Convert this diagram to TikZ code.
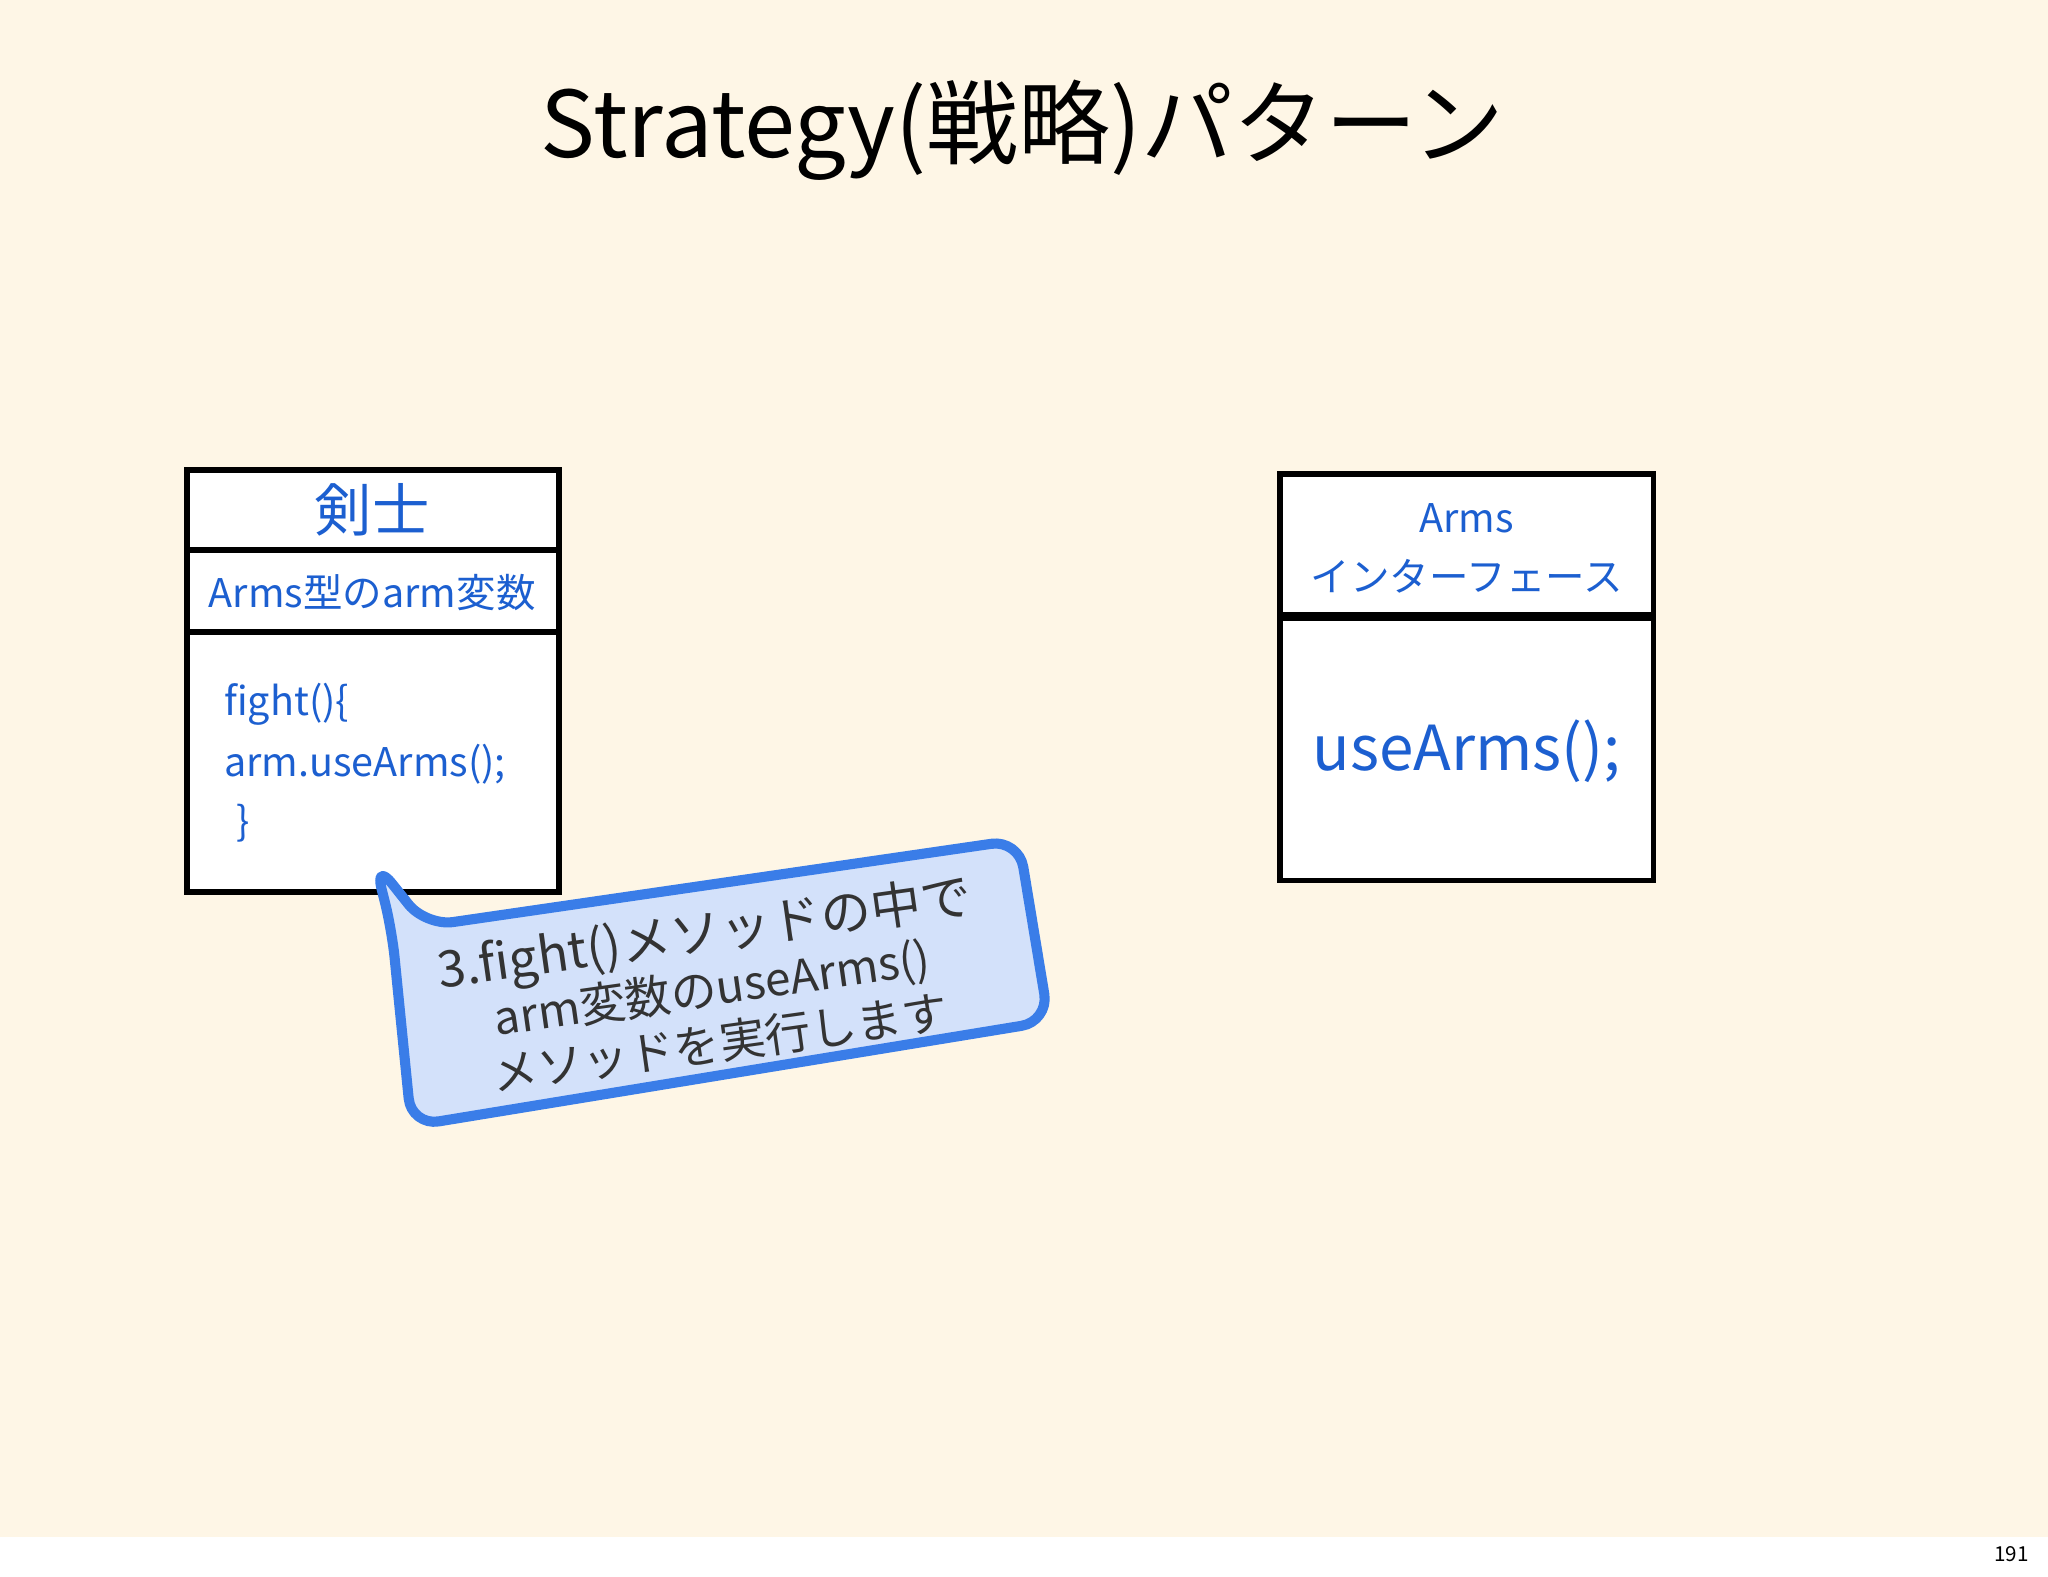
\documentclass[tikz,border=0pt]{standalone}
\usepackage{fontspec}
\setmainfont{Noto Sans CJK JP}
\definecolor{bg}{HTML}{FEF6E6}
\definecolor{tb}{HTML}{1C5FD0}
\definecolor{cfill}{HTML}{D3E1FA}
\definecolor{cline}{HTML}{3A7DE8}
\begin{document}
\begin{tikzpicture}[x=0.01cm,y=-0.01cm,
  boxline/.style={draw=black,line width=1.2pt,fill=white},
  bt/.style={text=tb,inner sep=0pt}]
\useasboundingbox (0,0) rectangle (1568,1207);
\fill[white] (0,0) rectangle (1568,1207);
\fill[bg] (0,0) rectangle (1568,1177);
\node[inner sep=0pt] (title) at (783,100) {\fontsize{20}{24}\selectfont Strategy(戦略)パターン};
% left box
\draw[boxline] (143,360) rectangle (428,683);
\draw[line width=1.2pt] (143,421) -- (428,421) (143,484) -- (428,484);
\node[bt] (kenshi) at (285,390) {\fontsize{12.5}{14}\selectfont 剣士};
\node[bt] (armvar) at (285,454) {\fontsize{8.6}{10}\selectfont Arms型のarm変数};
\node[bt,anchor=west] (l1) at (171,539) {\fontsize{8.6}{10}\selectfont fight()\{};
\node[bt,anchor=west] (l2) at (171,585) {\fontsize{8.6}{10}\selectfont arm.useArms();};
\node[bt,anchor=west] (l3) at (180,630) {\fontsize{8.6}{10}\selectfont \}};
% right box
\draw[boxline] (980,363) rectangle (1266,674);
\draw[line width=2pt] (980,472) -- (1266,472);
\node[bt] (arms) at (1123,397) {\fontsize{8.6}{10}\selectfont Arms};
\node[bt] (iface) at (1123,441) {\fontsize{8.6}{10}\selectfont インターフェース};
\node[bt] (use) at (1123,575) {\fontsize{13.5}{16}\selectfont useArms();};
% callout
\draw[fill=cfill,draw=cline,line width=2.2pt,rounded corners=6pt,line join=round]
 (300,712) -- (287,660) -- (326,709) -- (780,643) -- (803,782) -- (315,862) -- cycle;
\node[rotate=8,align=center,inner sep=0pt,text=black!80] (callout) at (545,755)
 {\fontsize{11}{12.5}\selectfont 3.fight()メソッドの中で\\arm変数のuseArms()\\メソッドを実行します};
\node[inner sep=0pt] (page) at (1540,1190) {\fontsize{4.5}{5}\selectfont 191};
\end{tikzpicture}
\end{document}
